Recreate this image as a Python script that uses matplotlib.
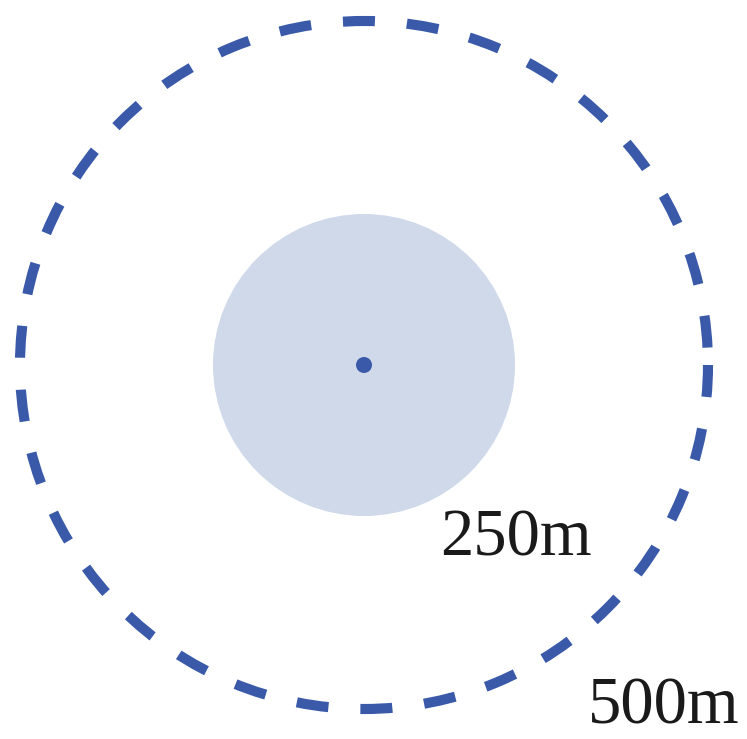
import matplotlib
matplotlib.use("Agg")
import matplotlib.pyplot as plt
from matplotlib.patches import Circle, Arc

plt.rcParams['lines.scale_dashes'] = False

# data
center = (364, 365)
radii_m = [250, 500]
radii_px = [151, 344]
labels = ["250m", "500m"]
label_pos = [(440, 555), (588, 723)]

blue = "#3a5aa9"
light = "#cfd9ea"

fig = plt.figure(figsize=(7.47, 7.39), dpi=100)
ax = fig.add_axes([0, 0, 1, 1])
ax.set_xlim(0, 747)
ax.set_ylim(739, 0)
ax.set_aspect('equal')
ax.axis('off')

ax.add_patch(Circle(center, radii_px[0], facecolor=light, edgecolor='none'))
ax.add_patch(Arc(center, 2 * radii_px[1], 2 * radii_px[1], theta1=0, theta2=360,
                 edgecolor=blue, linewidth=7.3, linestyle=(0, (23.04, 23.04)),
                 capstyle='butt'))
ax.add_patch(Circle(center, 8, facecolor=blue, edgecolor='none'))

for lab, (x, y) in zip(labels, label_pos):
    ax.text(x, y, lab, fontsize=48, family='Liberation Serif',
            color='#1a1a1a', ha='left', va='baseline')

fig.savefig("out.png", dpi=100)
